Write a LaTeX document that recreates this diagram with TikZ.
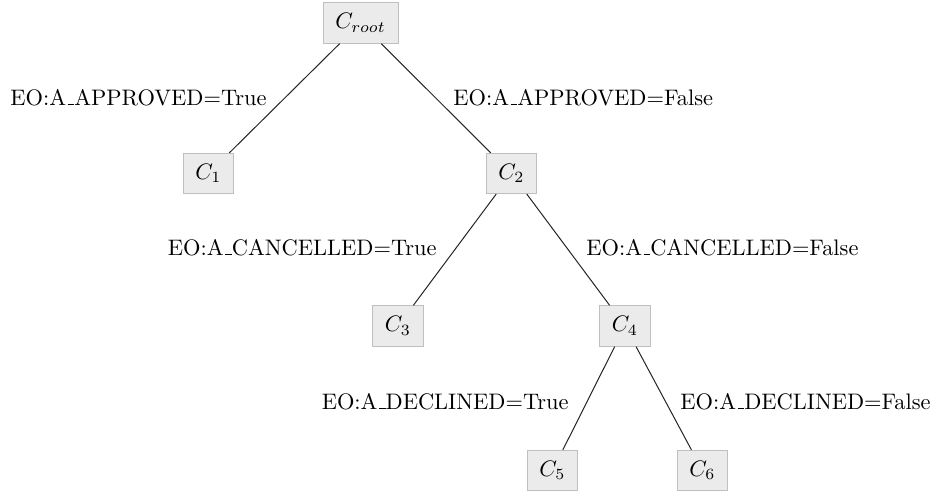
\documentclass[tikz,border=0pt]{standalone}
% short low rule used as the underscore in the split conditions
\newcommand{\lowbar}{\leavevmode\kern.06em\vbox{\hrule width.3em}}
\begin{document}
\begin{tikzpicture}[x=0.4459pt,y=-0.4459pt,
  cluster/.style={draw=black!25,fill=black!8,inner xsep=5.5pt,inner ysep=0pt,minimum height=18pt,line width=0.4pt},
  branch/.style={draw=black!85,line width=0.45pt},
  cond/.style={inner sep=0pt,font=\normalsize}]
  \useasboundingbox (0,0) rectangle (933,497);
  % cluster nodes
  \node[cluster] (root) at (360.5,23) {$C_{root}$};
  \node[cluster] (c1) at (208.5,173.5) {$C_1$};
  \node[cluster] (c2) at (511.5,173.5) {$C_2$};
  \node[cluster] (c3) at (398,326) {$C_3$};
  \node[cluster] (c4) at (625,326) {$C_4$};
  \node[cluster] (c5) at (552.5,470.5) {$C_5$};
  \node[cluster] (c6) at (702.5,470.5) {$C_6$};
  % branches
  \draw[branch] (root) -- (c1);
  \draw[branch] (root) -- (c2);
  \draw[branch] (c2) -- (c3);
  \draw[branch] (c2) -- (c4);
  \draw[branch] (c4) -- (c5);
  \draw[branch] (c4) -- (c6);
  % split conditions
  \node[cond,anchor=base east] (l1) at (267,105) {EO:A\lowbar APPROVED=True};
  \node[cond,anchor=base west] (l2) at (453,105) {EO:A\lowbar APPROVED=False};
  \node[cond,anchor=base east] (l3) at (437,255) {EO:A\lowbar CANCELLED=True};
  \node[cond,anchor=base west] (l4) at (586,255) {EO:A\lowbar CANCELLED=False};
  \node[cond,anchor=base east] (l5) at (569,409) {EO:A\lowbar DECLINED=True};
  \node[cond,anchor=base west] (l6) at (680,409) {EO:A\lowbar DECLINED=False};
\end{tikzpicture}
\end{document}
